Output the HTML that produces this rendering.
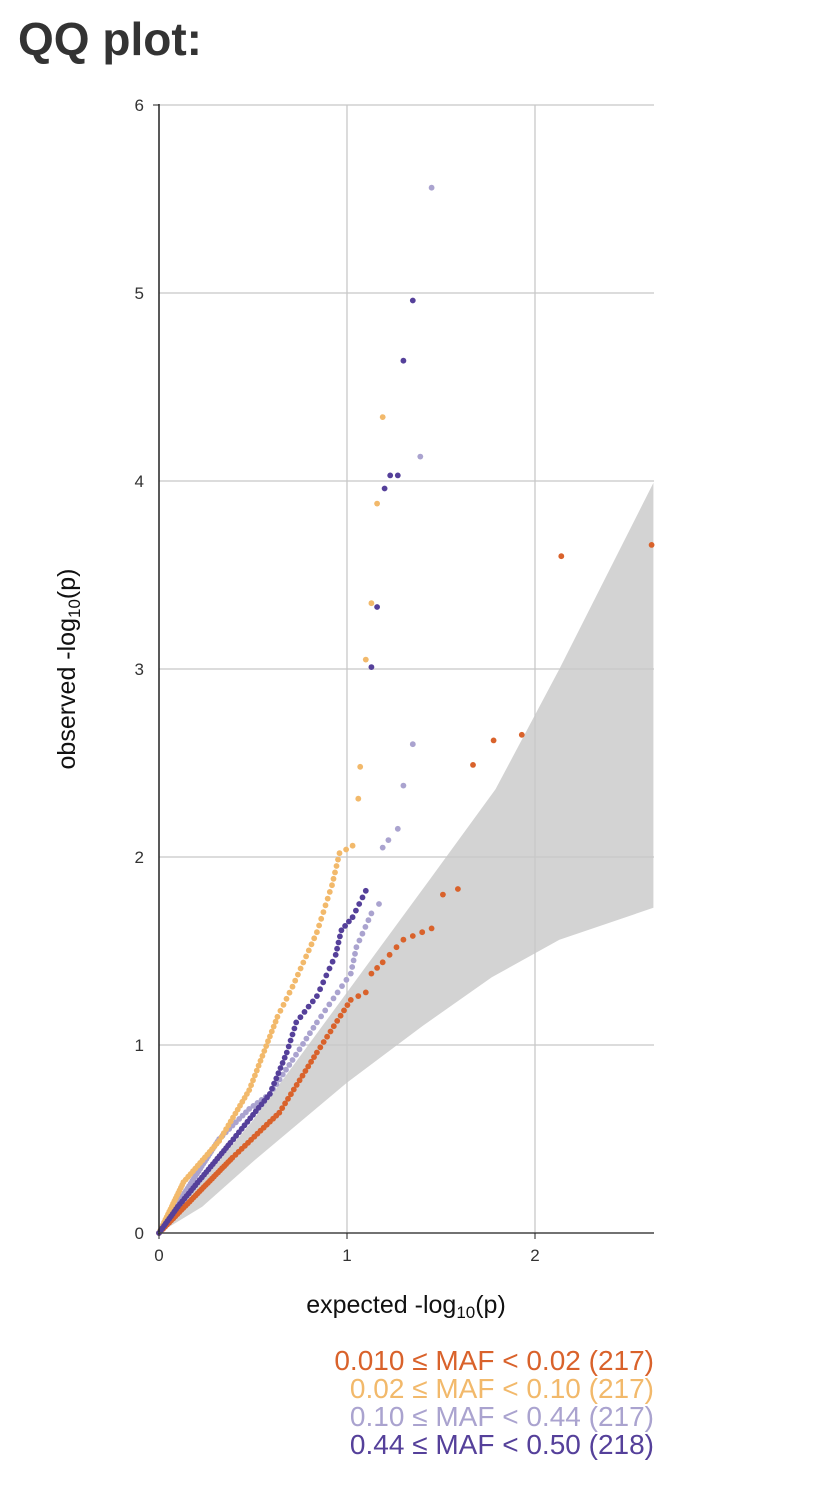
<!DOCTYPE html>
<html><head><meta charset="utf-8"><style>
html,body{margin:0;padding:0;background:#fff;width:836px;height:1500px;overflow:hidden;}
svg{display:block;font-family:"Liberation Sans",Arial,sans-serif;}
</style></head><body>
<svg id="s" width="836" height="1500" viewBox="0 0 836 1500" xmlns="http://www.w3.org/2000/svg">
<text x="18" y="55" font-size="46" font-weight="bold" fill="#333">QQ plot:</text>
<g id="band"></g>
<g stroke="#c8c8c8" stroke-width="1.3">
<line x1="159" y1="105" x2="654" y2="105"/><line x1="159" y1="293" x2="654" y2="293"/>
<line x1="159" y1="481" x2="654" y2="481"/><line x1="159" y1="669" x2="654" y2="669"/>
<line x1="159" y1="857" x2="654" y2="857"/><line x1="159" y1="1045" x2="654" y2="1045"/>
<line x1="347" y1="105" x2="347" y2="1233"/><line x1="535" y1="105" x2="535" y2="1233"/>
</g>
<g id="pts"></g>
<line x1="159" y1="104" x2="159" y2="1234" stroke="#222" stroke-width="1.5"/>
<line x1="158" y1="1233" x2="654" y2="1233" stroke="#444" stroke-width="1.5"/>
<g stroke="#222" stroke-width="1"><line x1="153" y1="105" x2="159" y2="105"/><line x1="159" y1="1233" x2="159" y2="1239"/><line x1="347" y1="1233" x2="347" y2="1239"/><line x1="535" y1="1233" x2="535" y2="1239"/></g>
<g font-size="17" fill="#333" text-anchor="end">
<text x="144" y="111">6</text><text x="144" y="299">5</text><text x="144" y="487">4</text>
<text x="144" y="675">3</text><text x="144" y="863">2</text><text x="144" y="1051">1</text><text x="144" y="1239">0</text>
</g>
<g font-size="17" fill="#333" text-anchor="middle">
<text x="159" y="1261">0</text><text x="347" y="1261">1</text><text x="535" y="1261">2</text>
</g>
<text x="406" y="1313" font-size="25" text-anchor="middle" fill="#111">expected -log<tspan font-size="17" dy="5">10</tspan><tspan dy="-5">(p)</tspan></text>
<text transform="translate(75,669) rotate(-90)" font-size="25" text-anchor="middle" fill="#111">observed -log<tspan font-size="17" dy="5">10</tspan><tspan dy="-5">(p)</tspan></text>
<g font-size="28" text-anchor="end">
<text x="654" y="1370" fill="#d9622b">0.010 ≤ MAF &lt; 0.02 (217)</text>
<text x="654" y="1398" fill="#f2b96b">0.02 ≤ MAF &lt; 0.10 (217)</text>
<text x="654" y="1426" fill="#aaa3cf">0.10 ≤ MAF &lt; 0.44 (217)</text>
<text x="654" y="1454" fill="#55409a">0.44 ≤ MAF &lt; 0.50 (218)</text>
</g>
</svg>
<script>
(function(){
var NS="http://www.w3.org/2000/svg";
function X(v){return 159+188*v;} function Y(v){return 1233-188*v;}
var up=[[0,0],[0.5,0.6],[1,1.28],[1.44,1.88],[1.79,2.36],[2.13,3.0],[2.63,3.99]];
var lo=[[2.63,1.73],[2.13,1.56],[1.77,1.36],[1.4,1.1],[1,0.8],[0.5,0.38],[0.23,0.14],[0,0]];
var d="M"+up.concat(lo).map(function(p){return X(p[0]).toFixed(1)+","+Y(p[1]).toFixed(1);}).join(" L")+"Z";
var b=document.createElementNS(NS,"path");b.setAttribute("d",d);b.setAttribute("fill","#d3d3d3");
document.getElementById("band").appendChild(b);
var g=document.getElementById("pts");
function dot(x,y,c){var e=document.createElementNS(NS,"circle");e.setAttribute("cx",X(x).toFixed(1));e.setAttribute("cy",Y(y).toFixed(1));e.setAttribute("r","2.9");e.setAttribute("fill",c);g.appendChild(e);}
function curve(pts,c,step){
 for(var i=0;i<pts.length-1;i++){var a=pts[i],bb=pts[i+1];
  var len=Math.hypot(bb[0]-a[0],bb[1]-a[1]);
  var s=step*(0.6+0.8*Math.min(1,(a[0]+a[1])/2));
  var n=Math.max(1,Math.round(len/s));
  for(var k=0;k<n;k++){var t=k/n;dot(a[0]+(bb[0]-a[0])*t,a[1]+(bb[1]-a[1])*t,c);}}
 var l=pts[pts.length-1];dot(l[0],l[1],c);}
function out(list,c){list.forEach(function(p){dot(p[0],p[1],c);});}
var O="#d9622b",LO="#f2b96b",LV="#aaa3cf",P="#55409a";
var ST=0.026;
curve([[0,0],[0.39,0.40],[0.64,0.64],[0.84,0.96],[1.02,1.24],[1.1,1.28]],O,ST);
curve([[1.13,1.38],[1.19,1.44],[1.3,1.56],[1.45,1.62]],O,0.04);
out([[1.51,1.80],[1.59,1.83],[1.67,2.49],[1.78,2.62],[1.93,2.65],[2.14,3.6],[2.62,3.66]],O);
curve([[0,0],[0.32,0.50],[0.48,0.66],[0.59,0.74],[0.71,0.92],[0.84,1.12],[0.95,1.28],[1.02,1.38],[1.05,1.52],[1.13,1.7]],LV,ST);
out([[1.17,1.75],[1.19,2.05],[1.22,2.09],[1.27,2.15],[1.3,2.38],[1.35,2.6],[1.39,4.13],[1.45,5.56]],LV);
curve([[0,0],[0.13,0.27],[0.32,0.49],[0.48,0.76],[0.63,1.15],[0.71,1.31],[0.84,1.6],[0.92,1.85],[0.96,2.02],[1.03,2.06]],LO,ST);
out([[1.06,2.31],[1.07,2.48],[1.1,3.05],[1.13,3.35],[1.16,3.88],[1.19,4.34]],LO);
curve([[0,0],[0.1,0.14],[0.38,0.48],[0.59,0.74],[0.68,0.96],[0.73,1.12],[0.84,1.26],[0.89,1.37],[0.94,1.48],[0.97,1.61],[1.03,1.68],[1.1,1.82]],P,ST);
out([[1.13,3.01],[1.16,3.33],[1.2,3.96],[1.23,4.03],[1.27,4.03],[1.3,4.64],[1.35,4.96]],P);
})();
</script>
</body></html>
